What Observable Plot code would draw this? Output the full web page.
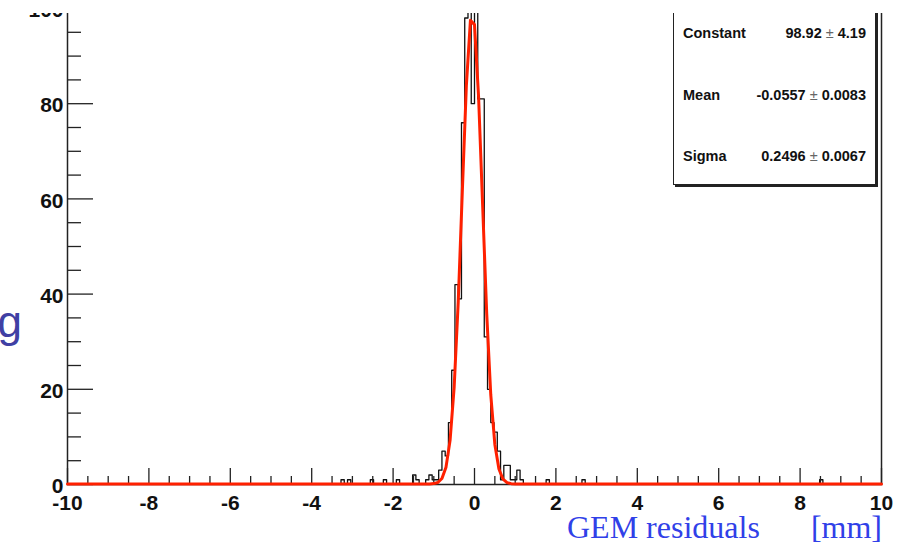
<!DOCTYPE html>
<html><head><meta charset="utf-8">
<script src="https://cdn.jsdelivr.net/npm/d3@7"></script>
<script src="https://cdn.jsdelivr.net/npm/@observablehq/plot@0.6"></script>
<style>
html,body{margin:0;padding:0;background:#fff;}
#wrap{position:relative;width:907px;height:545px;overflow:hidden;background:#fff;}
#wrap svg{position:absolute;left:0;top:0;}
#cut{position:absolute;left:0;top:0;width:907px;height:12.5px;background:#fff;}
</style></head><body>
<div id="wrap"></div>
<script>
// ---- data ----
const binWidth = 0.08;              // 250 bins from -10 to 10
const binLow = [-3.28,-3.12,-2.56,-2.24,-1.92,-1.52,-1.44,-1.20,-1.12,-1.04,-0.96,-0.88,-0.80,-0.72,-0.64,-0.56,-0.48,-0.40,-0.32,-0.24,-0.16,-0.08,0.00,0.08,0.16,0.24,0.32,0.40,0.48,0.56,0.64,0.72,0.80,0.88,0.96,1.04,1.12,1.76,2.64,8.48];
const binCount = [1,1,1,1,1,2,1,1,2,1,1,3,7,6,13,24,42,39,76,98,104,80,103,81,81,31,20,13,11,7,1,4,4,1,1,3,1,1,1,1];
const fitX = [-10,-1.2,-1.1,-1.0,-0.9,-0.8,-0.7,-0.6,-0.5,-0.4,-0.3,-0.2,-0.1,0,0.1,0.2,0.3,0.4,0.5,0.6,0.7,0.8,0.9,1.0,1.1,10];
const fitY = [0,0,0.02,0.08,0.32,1.16,3.54,9.17,20.3,38.2,61.3,83.7,97.4,96.5,81.4,58.5,35.8,18.7,8.3,3.14,1.01,0.28,0.07,0.01,0,0];
const xTickLabels = [-10,-8,-6,-4,-2,0,2,4,6,8,10];
const yTickLabels = [0,20,40,60,80,100];
const statNames = ["Constant","Mean","Sigma"];
const statValues = ["98.92","-0.0557","0.2496"];
const statErrors = ["4.19","0.0083","0.0067"];
const xTitle = "GEM residuals";
const xUnit = "[mm]";
const leftFragment = "g";

// ---- build tables ----
const nBins = Math.round(20 / binWidth);
const counts = new Array(nBins).fill(0);
binLow.forEach((x, i) => { counts[Math.round((x + 10) / binWidth)] = binCount[i]; });
const hist = counts.map((c, i) => ({x: -10 + i * binWidth, y: c}));
hist.push({x: 10, y: counts[nBins - 1]});
const fit = fitX.map((x, i) => ({x, y: fitY[i]}));
const xMinor = d3.range(-10, 10.001, 0.5).filter(v => Math.abs(v % 2) > 1e-9);
const yMinor = d3.range(0, 101, 5).filter(v => v % 20 !== 0);

const axisFont = {fontFamily: "Liberation Sans, Arial, sans-serif", fontWeight: "bold", fontSize: 21, fill: "#111"};

const chart = Plot.plot({
  width: 907, height: 545,
  marginLeft: 67, marginRight: 26, marginTop: 0, marginBottom: 61,
  x: {domain: [-10, 10], label: null},
  y: {domain: [0, 101.68], label: null},
  style: {background: "white", fontFamily: "Liberation Sans, Arial, sans-serif"},
  marks: [
    Plot.line(hist, {x: "x", y: "y", curve: "step-after", stroke: "#111", strokeWidth: 1.3, clip: true}),
    Plot.axisX(xMinor, {tickSize: -8, fill: "none", stroke: "#222", strokeWidth: 1.3, label: null}),
    Plot.axisX(xTickLabels, {tickSize: -16, fill: "none", stroke: "#222", strokeWidth: 1.3, label: null}),
    Plot.axisY(yMinor, {tickSize: -14, fill: "none", stroke: "#222", strokeWidth: 1.3, label: null}),
    Plot.axisY(yTickLabels, {tickSize: -26, fill: "none", stroke: "#222", strokeWidth: 1.3, label: null}),
    Plot.axisX(xTickLabels, {tickSize: 0, tickPadding: 11, tickFormat: d => String(d), label: null, ...axisFont}),
    Plot.axisY(yTickLabels, {tickSize: 0, tickPadding: 4, dy: 2, tickFormat: d => String(d), label: null, ...axisFont}),
    Plot.frame({stroke: "#222", strokeWidth: 1.5}),
    Plot.line(fit, {x: "x", y: "y", stroke: "#ff2000", strokeWidth: 3, dy: -0.5})
  ]
});
const wrap = document.getElementById("wrap");
wrap.appendChild(chart);

// ---- annotations: stats box, titles ----
const ov = d3.select(wrap).append("svg").attr("width", 907).attr("height", 545)
  .style("pointer-events", "none");
ov.append("rect").attr("x", 675).attr("y", 4).attr("width", 203).attr("height", 183).attr("fill", "#222");
ov.append("rect").attr("x", 673.5).attr("y", 2.5).attr("width", 202).attr("height", 182)
  .attr("fill", "white").attr("stroke", "#222").attr("stroke-width", 1);
const rowY = [38, 99.5, 160.5];
statNames.forEach((n, i) => {
  ov.append("text").attr("x", 683).attr("y", rowY[i])
    .attr("font-family", "Liberation Sans, Arial, sans-serif").attr("font-weight", "bold")
    .attr("font-size", 14.5).attr("fill", "#111").text(n);
  const t = ov.append("text").attr("x", 866).attr("y", rowY[i]).attr("text-anchor", "end")
    .attr("font-family", "Liberation Sans, Arial, sans-serif").attr("font-weight", "bold")
    .attr("font-size", 14.5).attr("fill", "#111");
  t.append("tspan").text(statValues[i] + " ");
  t.append("tspan").attr("font-weight", "normal").attr("fill", "#666").text("\u00b1");
  t.append("tspan").text(" " + statErrors[i]);
});
ov.append("text").attr("x", 567).attr("y", 538)
  .attr("font-family", "Liberation Serif, Times New Roman, serif").attr("font-size", 32)
  .attr("fill", "#3040e8").text(xTitle);
ov.append("text").attr("x", 882).attr("y", 538).attr("text-anchor", "end")
  .attr("font-family", "Liberation Serif, Times New Roman, serif").attr("font-size", 32)
  .attr("fill", "#3040e8").text(xUnit);
ov.append("text").attr("x", 22).attr("y", 337).attr("text-anchor", "end")
  .attr("font-family", "Liberation Sans, Arial, sans-serif").attr("font-size", 44)
  .attr("fill", "#4040a4").text(leftFragment);

const cut = document.createElement("div");
cut.id = "cut";
wrap.appendChild(cut);
</script>
</body></html>
